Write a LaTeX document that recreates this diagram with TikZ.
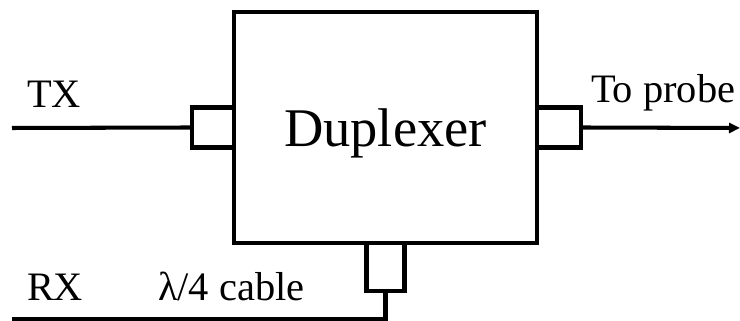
\documentclass[tikz,border=0pt]{standalone}
\usepackage{fontspec}
\setmainfont{Liberation Serif}
\usetikzlibrary{arrows.meta, positioning}

\begin{document}
\begin{tikzpicture}[line width=2.3pt,
    block/.style={draw, outer sep=0pt, minimum width=6.06cm, minimum height=4.62cm,
                  text depth=0pt, font=\fontsize{31}{36}\selectfont},
    port/.style={draw, outer sep=0pt, inner sep=0pt, minimum width=0.84cm, minimum height=0.8cm},
    lbl/.style={anchor=base west, inner sep=0pt, font=\fontsize{23}{27}\selectfont}]
  \useasboundingbox (0,0) rectangle (14.8,6.42);
  % duplexer and its three ports
  \node[block] (dup) at (7.71,3.87) {Duplexer};
  \node[port, anchor=east] (txport) at (dup.west) {};
  \node[port, anchor=west, minimum width=0.88cm] (probeport) at (dup.east) {};
  \node[port, anchor=north, minimum width=0.76cm, minimum height=0.96cm] (rxport) at (dup.south) {};
  % free line ends
  \coordinate (txend) at (0.24,3.86);
  \coordinate (probeend) at (14.8,3.86);
  \coordinate (rxend) at (0.24,0.04);
  \draw (txend) -- (txport.west);
  \draw[-{Triangle[length=0.22cm, width=0.2cm]}] (probeport.east) -- (probeend);
  \draw (rxport.south) |- (rxend);
  % labels
  \node[lbl] (txlab) at (0.5,4.26) {TX};
  \node[lbl] (rxlab) at (0.5,0.4) {RX};
  \node[lbl] (cablelab) at (3.12,0.4) {λ/4 cable};
  \node[lbl] (probelab) at (11.78,4.36) {To probe};
\end{tikzpicture}
\end{document}
